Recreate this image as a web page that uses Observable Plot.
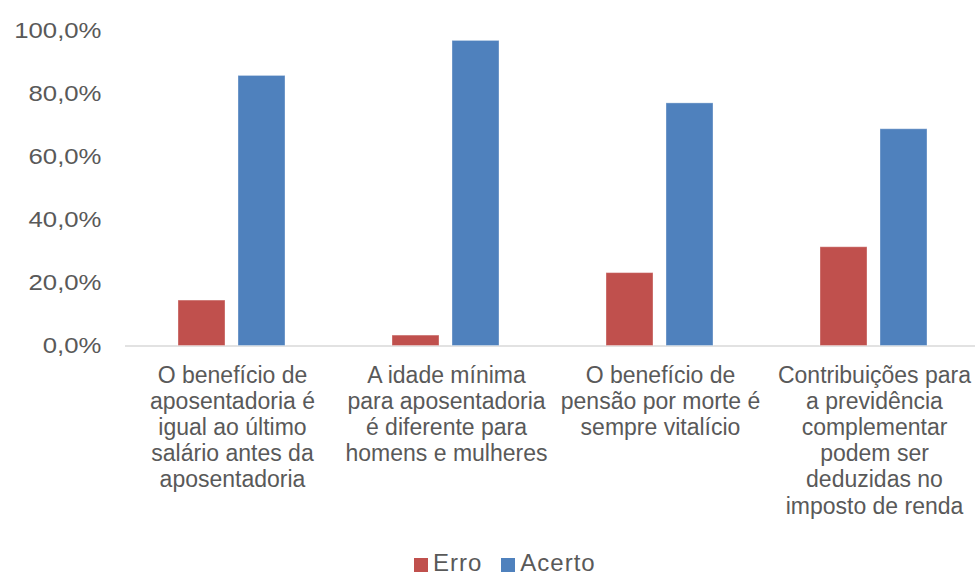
<!DOCTYPE html>
<html>
<head>
<meta charset="utf-8">
<script src="https://cdn.jsdelivr.net/npm/d3@7"></script>
<script src="https://cdn.jsdelivr.net/npm/@observablehq/plot@0.6"></script>
<style>
  html, body { margin: 0; background: #fff; font-family: "Liberation Sans", Arial, sans-serif; overflow: hidden; }
  #chart svg { display: block; }
  #legend { display: flex; align-items: center; height: 24px; line-height: 24px; margin-top: 11px; padding-left: 414px; font-size: 24px; letter-spacing: 1px; color: #595959; }
  #legend .item { display: flex; align-items: center; margin-right: 19px; }
  #legend .sw { display: inline-block; width: 14px; height: 14px; margin-right: 5px; margin-top: 3px; }
</style>
</head>
<body>
<div id="chart"></div>
<div id="legend"></div>
<script>
// Statements about retirement and pension rules
const categories = [
  "O benefício de\naposentadoria é\nigual ao último\nsalário antes da\naposentadoria",
  "A idade mínima\npara aposentadoria\né diferente para\nhomens e mulheres",
  "O benefício de\npensão por morte é\nsempre vitalício",
  "Contribuições para\na previdência\ncomplementar\npodem ser\ndeduzidas no\nimposto de renda"
];
const series = ["Erro", "Acerto"];
// Share of answers (%) per statement
const erro = [14.4, 3.3, 23.1, 31.3];
const acerto = [85.6, 96.7, 76.9, 68.7];
const colors = ["#C0504D", "#4F81BD"];
const yTicks = [0, 20, 40, 60, 80, 100];

const rows = categories.flatMap((c, i) => [
  {categoria: c, serie: "Erro", valor: erro[i]},
  {categoria: c, serie: "Acerto", valor: acerto[i]}
]);

const pct = d => d.toFixed(1).replace(".", ",") + "%";

const chart = Plot.plot({
  width: 975,
  height: 540,
  marginTop: 30,
  marginBottom: 194.5,
  marginLeft: 124,
  marginRight: 0,
  style: {fontFamily: "'Liberation Sans', Arial, sans-serif", color: "#595959", background: "#fff"},
  fx: {domain: categories, range: [124, 981.6], padding: 0, label: null},
  x: {domain: series, paddingInner: 0.209, paddingOuter: 0.87, axis: null},
  y: {domain: [0, 100], label: null},
  color: {domain: series, range: colors},
  marks: [
    Plot.axisY({ticks: yTicks, tickSize: 0, tickPadding: 24, fontSize: 23, tickFormat: pct, label: null}),
    Plot.ruleY([0], {stroke: "#D9D9D9", strokeWidth: 1.5}),
    Plot.barY(rows, {fx: "categoria", x: "serie", y: "valor", fill: "serie", stroke: "#fff", strokeOpacity: 0.35, strokeWidth: 1}),
    Plot.axisFx({anchor: "bottom", tickSize: 0, tickPadding: 18, fontSize: 23, lineHeight: 1.14, label: null})
  ]
});

document.getElementById("chart").append(chart);

// Widen the percentage labels slightly, keeping their right edge in place
d3.select(chart).selectAll("text")
  .filter(function () { return /%$/.test(this.textContent.trim()); })
  .each(function () {
    const box = this.getBBox();
    const xr = box.x + box.width;
    if (!isFinite(xr)) return;
    const t = d3.select(this);
    const base = t.attr("transform") || "";
    t.attr("transform", `${base} translate(${xr},0) scale(1.12,1) translate(${-xr},0)`);
  });

// Legend below the chart
const legend = d3.select("#legend");
series.forEach((s, i) => {
  const item = legend.append("span").attr("class", "item");
  item.append("span").attr("class", "sw").style("background", colors[i]);
  item.append("span").text(s);
});
</script>
</body>
</html>
